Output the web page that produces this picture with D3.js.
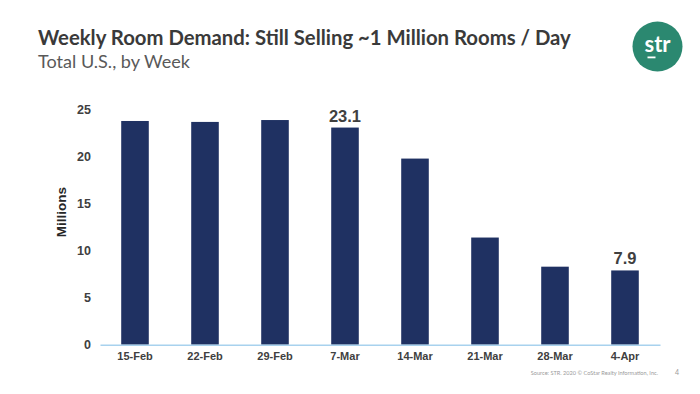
<!DOCTYPE html>
<html>
<head>
<meta charset="utf-8">
<script src="https://cdn.jsdelivr.net/npm/d3@7"></script>
<style>
  body { margin: 0; background: #fff; }
  svg { display: block; }
</style>
</head>
<body>
<svg id="chart"></svg>
<script>
// weekly room demand, millions
const weeks = ["15-Feb", "22-Feb", "29-Feb", "7-Mar", "14-Mar", "21-Mar", "28-Mar", "4-Apr"];
const demand = [23.8, 23.7, 23.9, 23.1, 19.8, 11.4, 8.3, 7.9];
const labelled = ["7-Mar", "4-Apr"];
const yTicks = [0, 5, 10, 15, 20, 25];

const W = 700, H = 394;
const svg = d3.select("#chart").attr("width", W).attr("height", H);

// fit a text to a measured width by scaling its font size
function fitWidth(sel, target) {
  const fs = parseFloat(sel.attr("font-size"));
  const w = sel.node().getComputedTextLength();
  sel.attr("font-size", fs * target / w);
}

const title = svg.append("text")
  .attr("x", 38).attr("y", 45)
  .attr("font-family", "Lato, 'Open Sans', sans-serif")
  .attr("font-weight", "bold")
  .attr("font-size", 21)
  .attr("fill", "#3a3a3a")
  .text("Weekly Room Demand: Still Selling ~1 Million Rooms / Day");
fitWidth(title, 533);

const sub = svg.append("text")
  .attr("x", 38).attr("y", 68)
  .attr("font-family", "Lato, 'Open Sans', sans-serif")
  .attr("font-size", 17)
  .attr("fill", "#595959")
  .text("Total U.S., by Week");
fitWidth(sub, 152);

// logo
const logo = svg.append("g").attr("transform", "translate(657.5,46.5)");
logo.append("circle").attr("r", 25).attr("fill", "#2b8870");
logo.append("text")
  .attr("text-anchor", "middle").attr("y", 5)
  .attr("font-family", "Lato, sans-serif")
  .attr("font-weight", "bold")
  .attr("font-size", 22)
  .attr("fill", "#fff")
  .text("str");
logo.append("rect").attr("x", -10).attr("y", 10).attr("width", 8).attr("height", 1.8).attr("fill", "#fff");

const x = d3.scaleBand()
  .domain(weeks)
  .range([100, 660])
  .paddingInner(0.606)
  .paddingOuter(0.303);

const y = d3.scaleLinear()
  .domain([0, 25])
  .range([344.7, 109.7]);

// bars
svg.append("g")
  .selectAll("rect")
  .data(weeks)
  .join("rect")
    .attr("x", d => x(d))
    .attr("width", x.bandwidth())
    .attr("y", (d, i) => y(demand[i]))
    .attr("height", (d, i) => y(0) - y(demand[i]))
    .attr("fill", "#1f3162");

// y axis labels (no line)
const yAxis = svg.append("g")
  .attr("transform", "translate(91,0)")
  .call(d3.axisLeft(y).tickValues(yTicks).tickSize(0).tickPadding(0).tickFormat(d3.format("d")));
yAxis.select(".domain").remove();
yAxis.selectAll("text")
  .attr("font-family", "'Liberation Sans', Arial, sans-serif")
  .attr("font-weight", "bold")
  .attr("font-size", 12.5)
  .attr("fill", "#404040");

// x axis
const xAxis = svg.append("g")
  .attr("transform", "translate(0," + y(0) + ")")
  .call(d3.axisBottom(x).tickSize(0).tickPadding(8));
xAxis.select(".domain")
  .attr("stroke", "#a8d2ee")
  .attr("stroke-width", 1.6);
xAxis.selectAll("text")
  .attr("font-family", "'Liberation Sans', Arial, sans-serif")
  .attr("font-weight", "bold")
  .attr("font-size", 11)
  .attr("fill", "#404040");

// axis title
svg.append("text")
  .attr("transform", "translate(65.5,212) rotate(-90)")
  .attr("text-anchor", "middle")
  .attr("font-family", "'Liberation Sans', Arial, sans-serif")
  .attr("font-weight", "bold")
  .attr("font-size", 13.5)
  .attr("fill", "#262626")
  .text("Millions");

// data labels
svg.append("g")
  .selectAll("text")
  .data(weeks.filter(w => labelled.includes(w)))
  .join("text")
    .attr("x", d => x(d) + x.bandwidth() / 2)
    .attr("y", d => y(demand[weeks.indexOf(d)]) - 6)
    .attr("text-anchor", "middle")
    .attr("font-family", "'Liberation Sans', Arial, sans-serif")
    .attr("font-weight", "bold")
    .attr("font-size", 16.5)
    .attr("fill", "#404040")
    .text(d => d3.format(".1f")(demand[weeks.indexOf(d)]));

// footer
svg.append("text")
  .attr("x", 658).attr("y", 374.5)
  .attr("text-anchor", "end")
  .attr("font-family", "Lato, sans-serif")
  .attr("font-size", 5.6)
  .attr("fill", "#9a9a9a")
  .text("Source: STR. 2020 © CoStar Realty Information, Inc.");
svg.append("text")
  .attr("x", 677).attr("y", 375)
  .attr("text-anchor", "middle")
  .attr("font-family", "Lato, sans-serif")
  .attr("font-size", 7)
  .attr("fill", "#9a9a9a")
  .text("4");
</script>
</body>
</html>
